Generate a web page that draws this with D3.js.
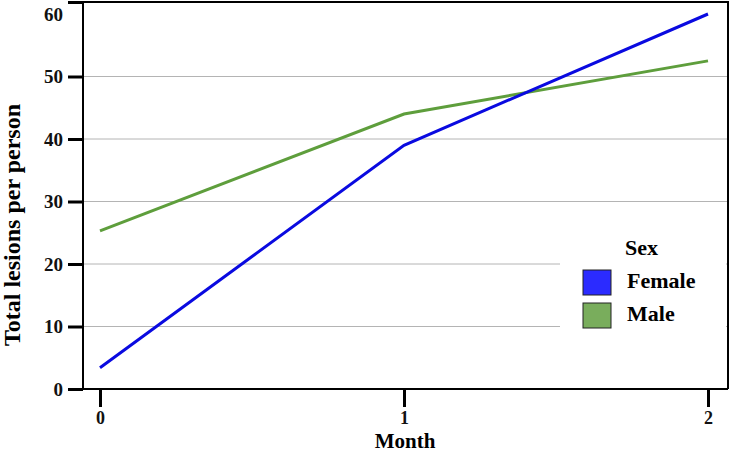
<!DOCTYPE html>
<html>
<head>
<meta charset="utf-8">
<script src="https://cdn.jsdelivr.net/npm/d3@7"></script>
<style>
  body { margin: 0; background: #fff; }
  text { font-family: "Liberation Serif", "Times New Roman", serif; font-weight: bold; }
</style>
</head>
<body>
<script>
// data
const months = [0, 1, 2];
const female = [3.4, 39, 60];
const male = [25.3, 44, 52.5];
const yTicks = [0, 10, 20, 30, 40, 50, 60];
const gridVals = [10, 20, 30, 40, 50];
const legendItems = ["Female", "Male"];
const colors = { Female: "#0a0ae0", Male: "#5e9e3c" };
const swatch = { Female: "#2b2bff", Male: "#79ad5c" };

const width = 731, height = 454;
const svg = d3.select("body").append("svg")
    .attr("width", width)
    .attr("height", height);

let x = d3.scaleLinear().domain([0, 2]).range([100, 708]);
let y = d3.scaleLinear().domain([0, 60]).range([389, 14]);

const pLeft = 83, pRight = 728, pTop = 2, pBottom = 389;

// gridlines
svg.append("g")
    .selectAll("line")
    .data(gridVals)
    .enter().append("line")
    .attr("x1", pLeft)
    .attr("x2", pRight)
    .attr("y1", d => y(d))
    .attr("y2", d => y(d))
    .attr("stroke", "#b4b4b4")
    .attr("stroke-width", 1);

// legend background hides the low gridlines
svg.append("rect")
    .attr("x", 560).attr("y", 225)
    .attr("width", 166).attr("height", 120)
    .attr("fill", "#fff");

// frame (top + right)
svg.append("path")
    .attr("d", `M${pLeft},${pTop}H${pRight}V${pBottom}`)
    .attr("fill", "none")
    .attr("stroke", "#000")
    .attr("stroke-width", 2);

// y axis
const yAxis = svg.append("g")
    .attr("transform", `translate(${pLeft},0)`)
    .call(d3.axisLeft(y).tickValues(yTicks).tickSize(15).tickPadding(5));
yAxis.select(".domain").attr("stroke", "#000").attr("stroke-width", 2)
    .attr("d", `M0,${pTop}V${pBottom}`);
yAxis.selectAll(".tick line").attr("stroke-width", 3);
yAxis.selectAll(".tick text").attr("font-size", 19).attr("fill", "#111")
    .style("font-family", "Liberation Serif").style("font-weight", "bold");
// the top tick sits on the frame
yAxis.selectAll(".tick").filter(d => d === 60).select("line")
    .attr("y1", pTop - y(60)).attr("y2", pTop - y(60));

// x axis
const xAxis = svg.append("g")
    .attr("transform", `translate(0,${pBottom})`)
    .call(d3.axisBottom(x).tickValues(months).tickFormat(d3.format("d")).tickSize(18).tickPadding(4));
xAxis.select(".domain").attr("stroke", "#000").attr("stroke-width", 2)
    .attr("d", `M${pLeft},0H${pRight}`);
xAxis.selectAll(".tick line").attr("stroke-width", 3);
xAxis.selectAll(".tick text").attr("font-size", 18).attr("fill", "#111")
    .style("font-family", "Liberation Serif").style("font-weight", "bold");

// lines
const line = d3.line()
    .x((d, i) => x(months[i]))
    .y(d => y(d));

svg.append("path")
    .datum(male)
    .attr("d", line)
    .attr("fill", "none")
    .attr("stroke", colors.Male)
    .attr("stroke-width", 3);

svg.append("path")
    .datum(female)
    .attr("d", line)
    .attr("fill", "none")
    .attr("stroke", colors.Female)
    .attr("stroke-width", 3);

// axis titles
svg.append("text")
    .attr("x", 405).attr("y", 448)
    .attr("text-anchor", "middle")
    .attr("font-size", 21)
    .text("Month");

svg.append("text")
    .attr("transform", "translate(20,225) rotate(-90)")
    .attr("text-anchor", "middle")
    .attr("font-size", 24)
    .text("Total lesions per person");

// legend
const lg = svg.append("g");
lg.append("text")
    .attr("x", 625).attr("y", 255)
    .attr("font-size", 22)
    .text("Sex");

const items = lg.selectAll("g.item")
    .data(legendItems)
    .enter().append("g")
    .attr("class", "item")
    .attr("transform", (d, i) => `translate(0,${i * 33})`);

items.append("rect")
    .attr("x", 583).attr("y", 270)
    .attr("width", 28).attr("height", 25)
    .attr("fill", d => swatch[d])
    .attr("stroke", "#222")
    .attr("stroke-width", 1);

items.append("text")
    .attr("x", 627).attr("y", 288)
    .attr("font-size", 22)
    .text(d => d);
</script>
</body>
</html>
